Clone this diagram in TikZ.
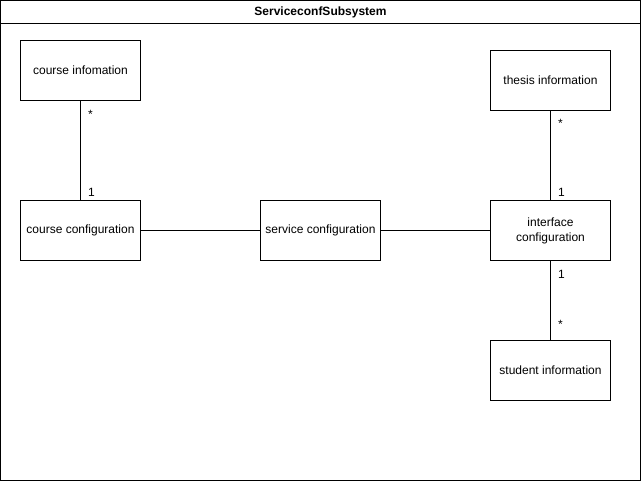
\documentclass[tikz,border=0pt]{standalone}
\usepackage{fontspec}
\setmainfont{Liberation Sans}
\usetikzlibrary{positioning}

\begin{document}
\begin{tikzpicture}[x=1pt, y=-1pt, line width=1pt,
    cls/.style={draw, fill=white, minimum width=120pt, minimum height=60pt,
      align=center, font=\fontsize{12}{15}\selectfont, inner sep=2pt},
    mult/.style={anchor=base west, inner sep=0pt, font=\fontsize{12}{14}\selectfont}]
      \useasboundingbox (-0.5,-0.5) rectangle (640.5,480.5);
      \draw (0,0) rectangle (640,480);
      \draw (0,23) -- (640,23);
      \node[font=\bfseries\fontsize{12}{14}\selectfont] (title) at (320,12) {ServiceconfSubsystem};

      \node[cls] (courseinfo)   at (80,70)   {course infomation};
      \node[cls] (courseconf)   at (80,230)  {course configuration};
      \node[cls] (serviceconf)  at (320,230) {service configuration};
      \node[cls] (thesisinfo)   at (550,80)  {thesis information};
      \node[cls] (interfconf)   at (550,230) {interface\\configuration};
      \node[cls] (studentinfo)  at (550,370) {student information};

      \draw (courseinfo) -- (courseconf);
      \draw (courseconf) -- (serviceconf);
      \draw (serviceconf) -- (interfconf);
      \draw (thesisinfo) -- (interfconf);
      \draw (interfconf) -- (studentinfo);

      \node[mult] (m1) at (87,118)  {*};
      \node[mult] (m2) at (87,196)  {1};
      \node[mult] (m3) at (557,127) {*};
      \node[mult] (m4) at (557,196) {1};
      \node[mult] (m5) at (557,278) {1};
      \node[mult] (m6) at (557,328) {*};
    \end{tikzpicture}
\end{document}
